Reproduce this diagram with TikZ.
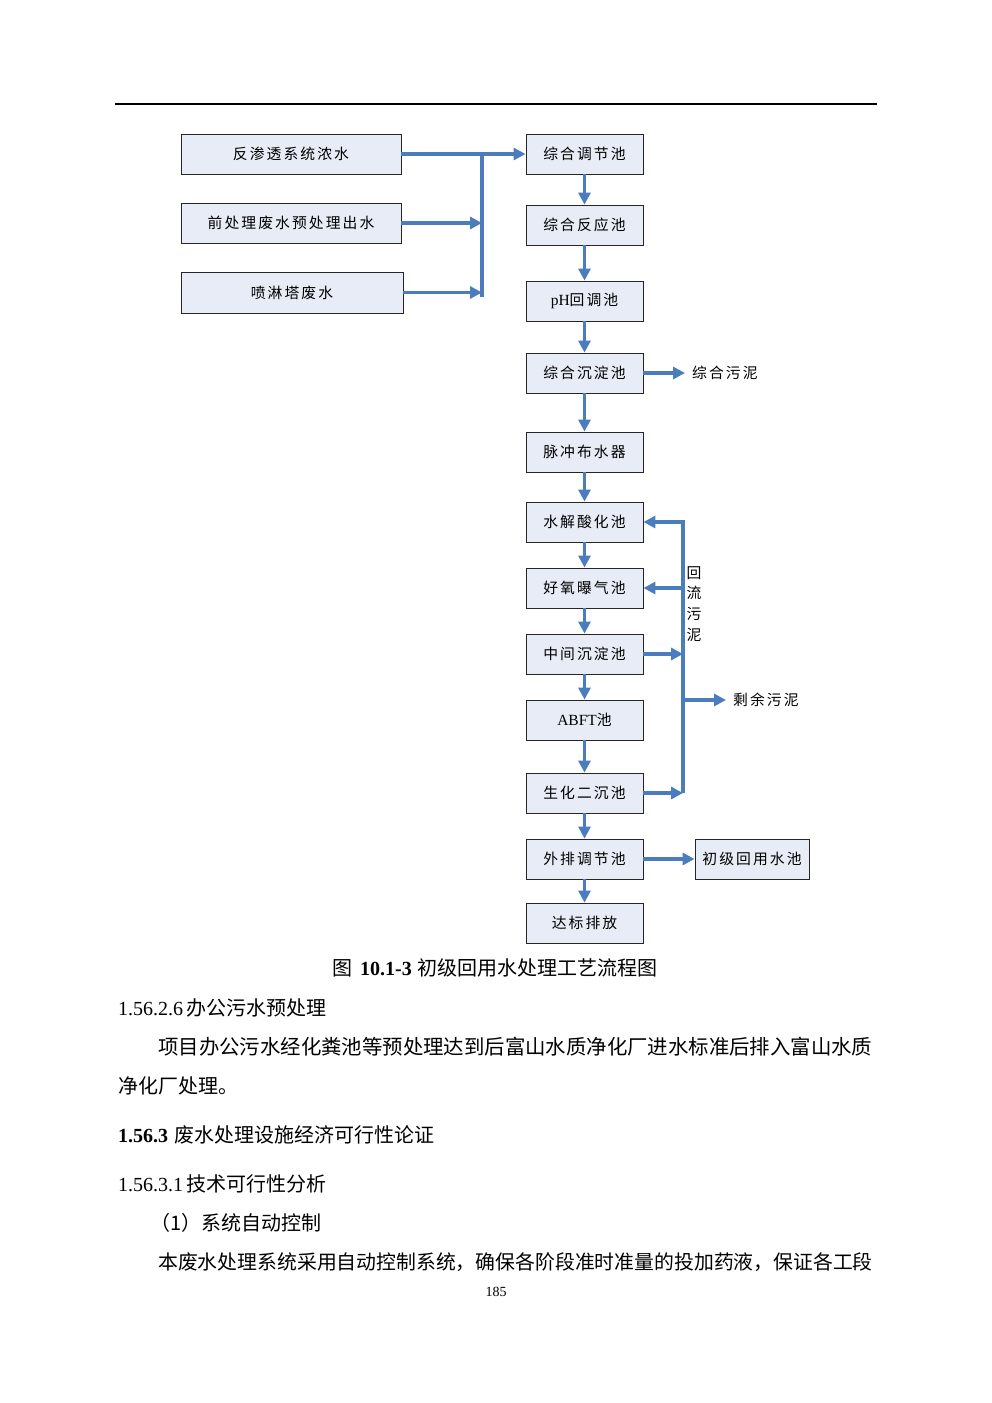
\documentclass[tikz,border=0pt]{standalone}
\usepackage{fontspec}
\setmainfont{Liberation Serif}
\newfontfamily\cjk{Noto Sans CJK SC}
\newfontfamily\boxcjk[LetterSpace=14]{Noto Sans CJK SC}
\usetikzlibrary{arrows.meta}
\definecolor{pipeblue}{RGB}{74,124,190}
\definecolor{boxfill}{RGB}{231,236,246}
\newcommand{\bx}{\boxcjk\fontsize{14.8}{17}\selectfont}
\newcommand{\bodyfont}{\cjk\fontsize{20}{24}\selectfont}
\tikzset{
  tank/.style={draw=black!85, line width=0.9pt, fill=boxfill, inner sep=0pt,
    minimum width=117pt, minimum height=40pt, font=\bx},
  src/.style={tank, minimum width=220pt},
  pipe/.style={draw=pipeblue, line width=3.4pt},
  flow/.style={pipe, -{Triangle[length=12pt,width=12pt]}},
  lbl/.style={inner sep=0pt, font=\bx},
  para/.style={inner sep=0pt, anchor=west, font=\bodyfont},
}
\begin{document}
\begin{tikzpicture}[x=1pt,y=-1pt]
\useasboundingbox (0,0) rectangle (992,1403);
\fill[white] (0,0) rectangle (992,1403);

% header rule
\coordinate (ruleL) at (115,104);
\coordinate (ruleR) at (877,104);
\draw[line width=1.8pt] (ruleL) -- (ruleR);

% incoming streams
\node[src] (s1) at (291,154) {反渗透系统浓水};
\node[src] (s2) at (291,223) {前处理废水预处理出水};
\node[src, minimum width=222pt, minimum height=41pt] (s3) at (292,292.5) {喷淋塔废水};

% main treatment line
\node[tank] (c1)  at (584.5,154) {综合调节池};
\node[tank] (c2)  at (584.5,225) {综合反应池};
\node[tank] (c3)  at (584.5,301) {{\rmfamily\fontsize{15.5}{17}\selectfont pH}回调池};
\node[tank] (c4)  at (584.5,373) {综合沉淀池};
\node[tank] (c5)  at (584.5,452) {脉冲布水器};
\node[tank] (c6)  at (584.5,522) {水解酸化池};
\node[tank] (c7)  at (584.5,588) {好氧曝气池};
\node[tank] (c8)  at (584.5,654) {中间沉淀池};
\node[tank] (c9)  at (584.5,720) {{\rmfamily\fontsize{15.5}{17}\selectfont ABFT}池};
\node[tank] (c10) at (584.5,793) {生化二沉池};
\node[tank] (c11) at (584.5,859) {外排调节池};
\node[tank] (c12) at (584.5,923) {达标排放};
\node[tank, minimum width=114pt] (reuse) at (752,859) {初级回用水池};

% collector for the incoming streams
\coordinate (busx) at (482,0);
\coordinate (busBot) at (482,297);
\draw[flow] (s1.east) -- (c1.west);
\draw[pipe] (s1.east -| busx) -- (busBot);
\draw[flow] (s2.east) -- (s2.east -| busx);
\draw[flow] (s3.east) -- (s3.east -| busx);

% downstream chain
\foreach \a/\b in {c1/c2,c2/c3,c3/c4,c4/c5,c5/c6,c6/c7,c7/c8,c8/c9,c9/c10,c10/c11,c11/c12}
  \draw[flow] (\a.south) -- (\b.north);

% sludge from the sedimentation tank
\node[lbl, anchor=west] (sl1) at (692,373) {综合污泥};
\coordinate (sl1tip) at (685,373);
\draw[flow] (c4.east) -- (sl1tip);

% sludge return line
\coordinate (rx) at (683,0);
\draw[flow] (c10.east -| rx) -- (c6.east -| rx) -- (c6.east);
\draw[flow] (c7.east -| rx) -- (c7.east);
\draw[flow] (c8.east) -- (c8.east -| rx);
\draw[flow] (c10.east) -- (c10.east -| rx);
\node[lbl, align=center, font=\boxcjk\fontsize{14.8}{20.7}\selectfont] (ret) at (694,604) {回\\流\\污\\泥};

% excess sludge
\coordinate (exs) at (683,700);
\coordinate (extip) at (726,700);
\draw[flow] (exs) -- (extip);
\node[lbl, anchor=west] (sl2) at (733,700) {剩余污泥};

% reuse branch
\draw[flow] (c11.east) -- (reuse.west);

% caption and following text
\node[para] (cap) at (332,968) {图\hspace{8pt}{\rmfamily\bfseries 10.1-3}\hspace{6pt}初级回用水处理工艺流程图};
\node[para] (h1) at (118,1008) {{\rmfamily 1.56.2.6}\hspace{3pt}办公污水预处理};
\node[para, font=\cjk\fontsize{20.4}{24}\selectfont] (p1) at (158,1047) {项目办公污水经化粪池等预处理达到后富山水质净化厂进水标准后排入富山水质};
\node[para] (p2) at (118,1086) {净化厂处理。};
\node[para] (h2) at (118,1135) {{\rmfamily\bfseries 1.56.3}\hspace{6pt}废水处理设施经济可行性论证};
\node[para] (h3) at (118,1184) {{\rmfamily 1.56.3.1}\hspace{3pt}技术可行性分析};
\node[para] (p3) at (150,1223) {（1）系统自动控制};
\node[para, font=\cjk\fontsize{19.85}{24}\selectfont] (p4) at (158,1262) {本废水处理系统采用自动控制系统，确保各阶段准时准量的投加药液，保证各工段};
\node[inner sep=0pt, font=\rmfamily\fontsize{14}{16}\selectfont] (pg) at (496,1292) {185};
\end{tikzpicture}
\end{document}
